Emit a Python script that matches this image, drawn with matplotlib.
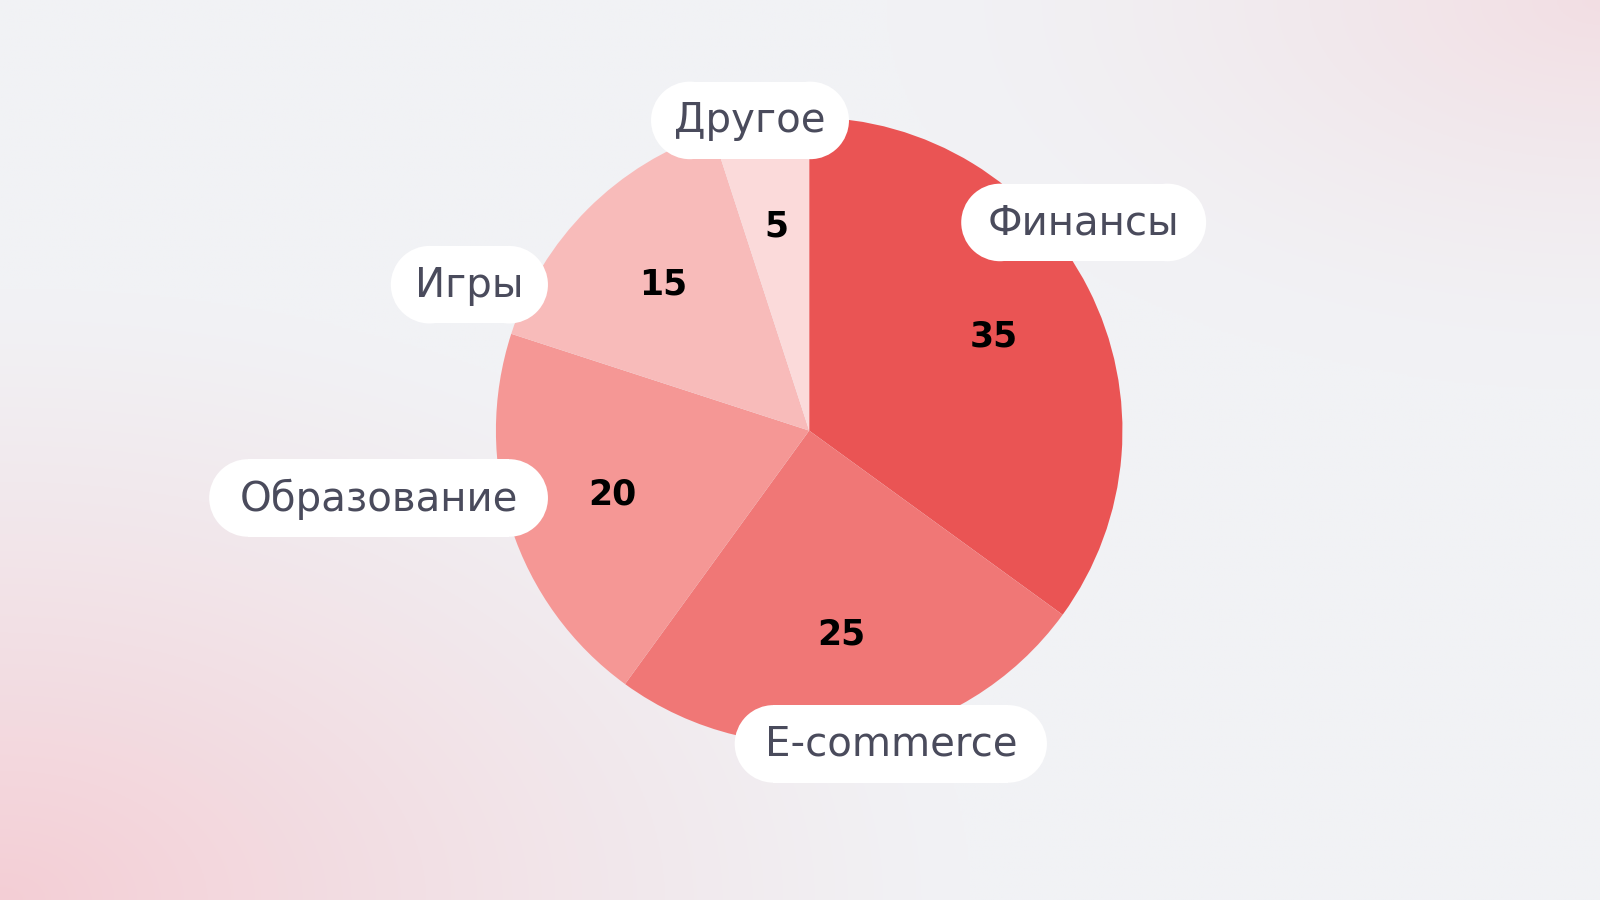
import numpy as np
import matplotlib
matplotlib.use("Agg")
import matplotlib.pyplot as plt
from matplotlib.patches import Rectangle, Circle

categories = ["Финансы", "E-commerce", "Образование", "Игры", "Другое"]
values = [35, 25, 20, 15, 5]
colors = ["#EA5454", "#F07776", "#F59795", "#F8BBBA", "#FBDADA"]

W, H = 1568, 882
fig = plt.figure(figsize=(16, 9), dpi=100)
ax = fig.add_axes([0, 0, 1, 1])

# background gradient (row index from top)
row, col = np.mgrid[0:H:2, 0:W:2]
base = np.array([241, 242, 245]) / 255.0
pink = np.array([244, 206, 213]) / 255.0
d_bl = np.clip(1 - np.hypot(col / 950.0, (H - row) / 600.0), 0, 1) ** 1.2
d_tr = np.clip(1 - np.hypot((W - col) / 700.0, row / 380.0), 0, 1) ** 1.5 * 0.55
t = np.clip(d_bl + d_tr, 0, 1)[..., None]
img = base * (1 - t) + pink * t
ax.imshow(img, extent=[0, W, 0, H], origin="upper", zorder=0, aspect="auto")

cx, cy, R = 793, H - 422, 307
wedges, _, autotexts = ax.pie(
    values, colors=colors, startangle=90, counterclock=False,
    center=(cx, cy), radius=R, autopct=lambda p: "",
    pctdistance=0.66, wedgeprops=dict(linewidth=0), frame=True)
for w in wedges:
    w.set_zorder(2)
ax.set_xlim(0, W)
ax.set_ylim(0, H)
ax.set_aspect("equal")
ax.axis("off")

for at, v in zip(autotexts, values):
    at.set_text(str(v))
    at.set_fontsize(25)
    at.set_fontweight("bold")
    at.set_family("DejaVu Sans")
    at.set_color("#000000")
    at.set_zorder(4)

# label pills (layout): center x, center y (image coords), width
label_layout = {
    "Финансы": (1062, 218, 240),
    "E-commerce": (873, 729, 306),
    "Образование": (371, 488, 332),
    "Игры": (460, 279, 154),
    "Другое": (735, 118, 194),
}
bh = 76
r = bh / 2
for name in categories:
    x, y, bw = label_layout[name]
    yc = H - y
    ax.add_patch(Rectangle((x - bw / 2 + r, yc - r), bw - 2 * r, bh,
                           fc="white", ec="none", zorder=3))
    ax.add_patch(Circle((x - bw / 2 + r, yc), r, fc="white", ec="none", zorder=3))
    ax.add_patch(Circle((x + bw / 2 - r, yc), r, fc="white", ec="none", zorder=3))
    ax.text(x, yc - 1, name, ha="center", va="center", fontsize=29,
            family="DejaVu Sans", color="#4A4B5C", zorder=4)

fig.savefig("out.png", dpi=100)
